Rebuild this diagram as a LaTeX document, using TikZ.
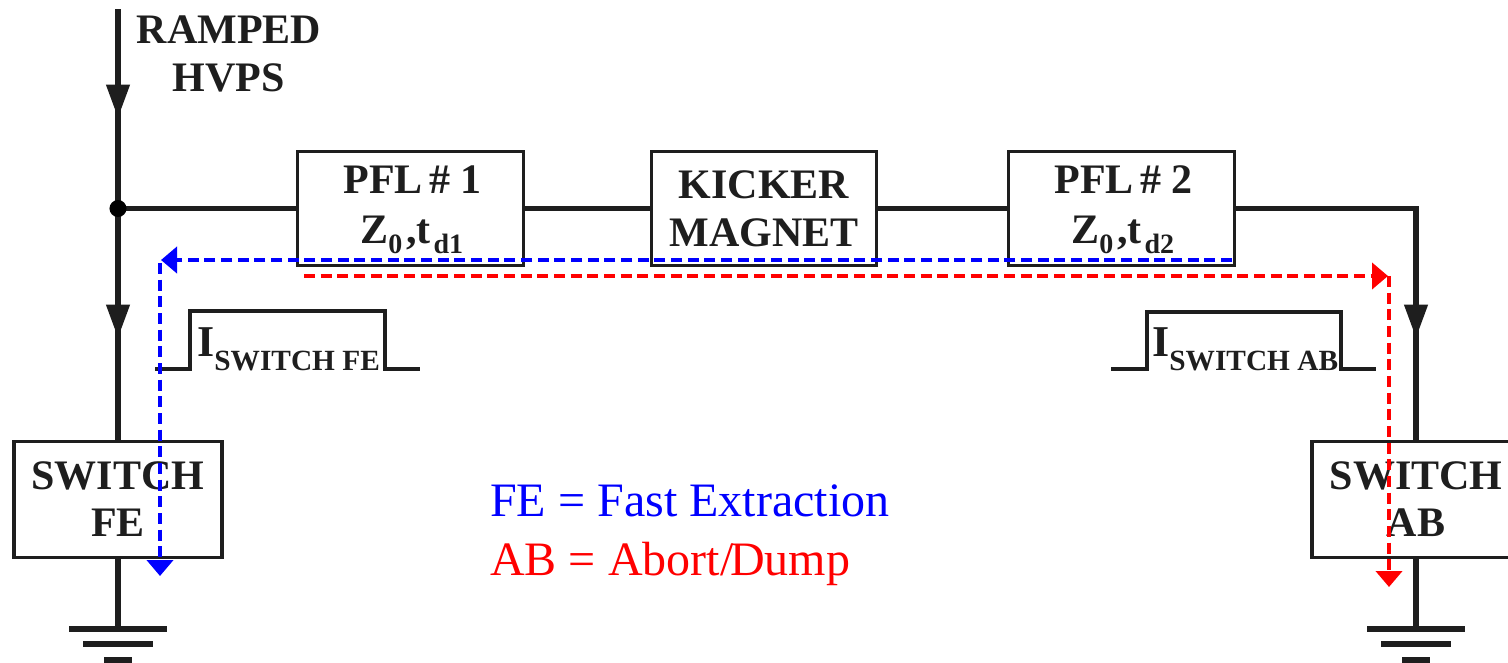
\documentclass[tikz,border=0pt]{standalone}
\usepackage{fontspec}
\setmainfont{Liberation Serif}
\usetikzlibrary{arrows.meta}
\definecolor{ink}{RGB}{30,30,30}
\newcommand{\lbl}{\fontsize{31.5pt}{35.5pt}\selectfont\bfseries}
\newcommand{\lowsub}[1]{\raisebox{-7.5pt}{\fontsize{21pt}{21pt}\selectfont\bfseries #1}}
\newcommand{\pulsesub}[1]{\raisebox{-10.5pt}{\fontsize{22pt}{22pt}\selectfont\bfseries #1}}
\newcommand{\twolines}[4]{\raisebox{-#1}[0pt][0pt]{\begin{tabular}[b]{@{}c@{}}#3\\[#2]#4\end{tabular}}}
\newcommand{\pflname}[1]{\hspace*{3pt}PFL \kern-3pt\# #1}
\newcommand{\pflpar}[1]{\hspace*{2pt}Z\lowsub{0}\kern3pt,t\kern2pt\lowsub{#1}}
\tikzset{
  x=0.75pt,y=-0.75pt,
  wire/.style={draw=ink,line width=3.9pt},
  flowtip/.style={-{Triangle[length=25pt,width=17pt,color=ink]}},
  thin wire/.style={draw=ink,line width=2.4pt},
  boxnode/.style={draw=ink,line width=2.4pt,fill=white,minimum width=169pt,minimum height=86pt,inner sep=0pt,align=center,font=\lbl,text=ink},
  switchnode/.style={draw=ink,line width=2.4pt,fill=white,minimum width=156pt,minimum height=87.5pt,inner sep=0pt,align=center,font=\lbl,text=ink},
  blue path/.style={draw=blue,line width=3pt,dash pattern=on 8.2pt off 4.3pt},
  red path/.style={draw=red,line width=3pt,dash pattern=on 8.2pt off 4.3pt},
  bluetip/.style={-{Triangle[length=12pt,width=19.5pt,color=blue]}},
  redtip/.style={-{Triangle[length=12pt,width=19.5pt,color=red]}},
  pulselabel/.style={anchor=base west,inner sep=0pt,text=ink,font=\fontsize{33pt}{33pt}\selectfont\bfseries},
  legend/.style={anchor=base west,inner sep=0pt,font=\fontsize{36pt}{36pt}\selectfont},
  earth/.style={draw=ink,line width=4.4pt},
}
\begin{document}
\begin{tikzpicture}
\useasboundingbox (0,0) rectangle (1508,662);

% boxes
\node[boxnode] (pfla) at (410.5,208.5) {\twolines{25.9pt}{2pt}{\pflname{1}}{\pflpar{d1}}};
\node[boxnode] (kick) at (764,208.5) {\twolines{28.2pt}{0pt}{KICKER}{MAGNET}};
\node[boxnode] (pflb) at (1121.5,208.5) {\twolines{25.9pt}{2pt}{\pflname{2}}{\pflpar{d2}}};
\node[switchnode] (swfe) at (118,499.5) {\twolines{28.1pt}{0pt}{SWITCH}{FE}};
\node[switchnode] (swab) at (1416,499.5) {\twolines{28.1pt}{0pt}{SWITCH}{AB}};

% free ends
\coordinate (src) at (118,9);
\coordinate (jn) at (118,208.5);
\coordinate (corner) at (1416,208.5);
\coordinate (arrA) at (118,118);
\coordinate (arrB) at (118,338);
\coordinate (arrC) at (1416,338);
\coordinate (gndfe) at (118,629);
\coordinate (gndab) at (1416,629);

% wires
\draw[wire] (src) -- (jn);
\draw[wire,flowtip] (src) -- (arrA);
\draw[wire] (jn) -- (swfe.north);
\draw[wire,flowtip] (jn) -- (arrB);
\draw[wire] (jn) -- (pfla.west);
\draw[wire] (pfla.east) -- (kick.west);
\draw[wire] (kick.east) -- (pflb.west);
\draw[wire,line join=miter] (pflb.east) -- (corner) -- (swab.north);
\draw[wire,flowtip] (corner) -- (arrC);
\draw[wire] (swfe.south) -- (gndfe);
\draw[wire] (swab.south) -- (gndab);
\fill[black] (jn) circle (6.4pt);

% grounds
\foreach \g in {gndfe,gndab}{
  \draw[earth] ([xshift=-36.75pt]\g) -- ([xshift=36.75pt]\g);
  \draw[earth] ([xshift=-26pt,yshift=-11.2pt]\g) -- ([xshift=26pt,yshift=-11.2pt]\g);
  \draw[earth] ([xshift=-10.5pt,yshift=-23pt]\g) -- ([xshift=10.5pt,yshift=-23pt]\g);
}

% texts
\node[anchor=base,inner sep=0pt,font=\lbl,text=ink,align=center] (ramp) at (229,91) {RAMPED\\[0.5pt]HVPS};

% pulses
\coordinate (pa1) at (155,369); \coordinate (pa2) at (190,369); \coordinate (pa3) at (190,311);
\coordinate (pa4) at (385,311); \coordinate (pa5) at (385,369); \coordinate (pa6) at (420,369);
\draw[thin wire] (pa1) -- (pa2) -- (pa3) -- (pa4) -- (pa5) -- (pa6);
\coordinate (pb1) at (1111,369); \coordinate (pb2) at (1147,369); \coordinate (pb3) at (1147,312);
\coordinate (pb4) at (1341,312); \coordinate (pb5) at (1341,369); \coordinate (pb6) at (1376,369);
\draw[thin wire] (pb1) -- (pb2) -- (pb3) -- (pb4) -- (pb5) -- (pb6);
\node[pulselabel] (ilabfe) at (197,356) {I\pulsesub{SWITCH FE}};
\node[pulselabel] (ilabab) at (1152,356) {I\pulsesub{SWITCH AB}};

% legend
\node[legend,text=blue] (legfe) at (490,516) {FE = Fast Extraction};
\node[legend,text=red] (legab) at (490,575) {AB = Abort/\kern-2.5pt Dump};

% flow paths
\coordinate (bs) at (1232,260); \coordinate (bc) at (161,260);
\coordinate (bd) at (160,263); \coordinate (be) at (160,576);
\draw[blue path,bluetip] (bs) -- (bc);
\draw[blue path,bluetip] (bd) -- (be);
\coordinate (rs) at (304,276); \coordinate (rc) at (1388,276);
\coordinate (rd) at (1389,276); \coordinate (re) at (1389,587);
\draw[red path,redtip] (rs) -- (rc);
\draw[red path,redtip] (rd) -- (re);
\end{tikzpicture}
\end{document}
